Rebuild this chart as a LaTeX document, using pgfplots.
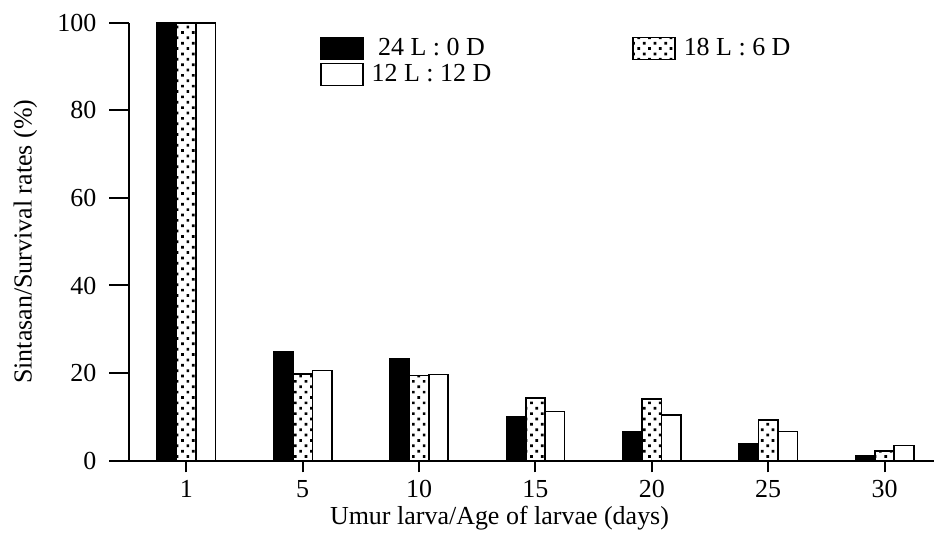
\documentclass[border=0pt]{standalone}
\usepackage{pgfplots}
\pgfplotsset{compat=1.18}
\usepackage{fontspec}
\setmainfont{Liberation Serif}
\usetikzlibrary{patterns.meta}
\begin{document}
\begin{tikzpicture}
\begin{axis}[
  name=main,
  scale only axis,
  width=402.75pt, height=219pt,
  xmin=-0.49, xmax=6.425,
  ymin=0, ymax=100,
  axis lines*=left,
  axis line style={line width=1pt},
  tick style={line width=1pt, black},
  tick align=outside,
  major tick length=10pt,
  xtick style={/pgfplots/major tick length=6pt},
  xtick={0,1,2,3,4,5,6},
  xticklabels={1,5,10,15,20,25,30},
  ytick={0,20,40,60,80,100},
  /pgf/number format/assume math mode=true,
  tick label style={font=\fontsize{13}{15}\selectfont},
  yticklabel style={xshift=-3pt},
  xticklabel style={yshift=3.5pt},
  label style={font=\fontsize{13}{15}\selectfont},
  xlabel={Umur larva/Age of larvae (days)},
  ylabel={Sintasan/Survival rates (\%)},
  xlabel style={at={(rel axis cs:0.46,0)}, anchor=north, yshift=-19.5pt},
  ylabel style={at={(rel axis cs:0,0.5)}, anchor=center, yshift=52pt},
  clip=false,
  legend columns=2,
  legend style={draw=none, fill=none, at={(rel axis cs:0.2365,0.975)}, anchor=north west,
    font=\fontsize{13}{15}\selectfont,
    /tikz/every even column/.append style={column sep=68.5pt},
    /tikz/every odd column/.append style={column sep=2pt},
    row sep=-1pt, inner sep=0pt},
  legend image code/.code={\draw[#1,line width=0.8pt] (0pt,-5.5pt) rectangle (21pt,5.5pt);},
  bar width=0.167,
]
\addplot[ybar, bar shift=-0.167, draw=black, fill=black, line width=0.8pt] coordinates {(0,100) (1,24.8) (2,23.2) (3,10.1) (4,6.5) (5,3.9) (6,1.0)};
\addlegendentry{24 L : 0 D}
\addplot[ybar, bar shift=0, draw=black, line width=0.8pt, pattern={Dots[radius=0.95pt, distance=3.8pt, angle=45]}] coordinates {(0,100) (1,19.8) (2,19.4) (3,14.3) (4,14.0) (5,9.2) (6,2.2)};
\addlegendentry{18 L : 6 D}
\addplot[ybar, bar shift=0.167, draw=black, fill=white, line width=0.8pt] coordinates {(0,100) (1,20.6) (2,19.7) (3,11.2) (4,10.4) (5,6.6) (6,3.4)};
\addlegendentry{12 L : 12 D}
\end{axis}
\path ([xshift=-64.75pt,yshift=-36pt]main.south west) rectangle ([yshift=11.5pt]main.north east);
\end{tikzpicture}
\end{document}
